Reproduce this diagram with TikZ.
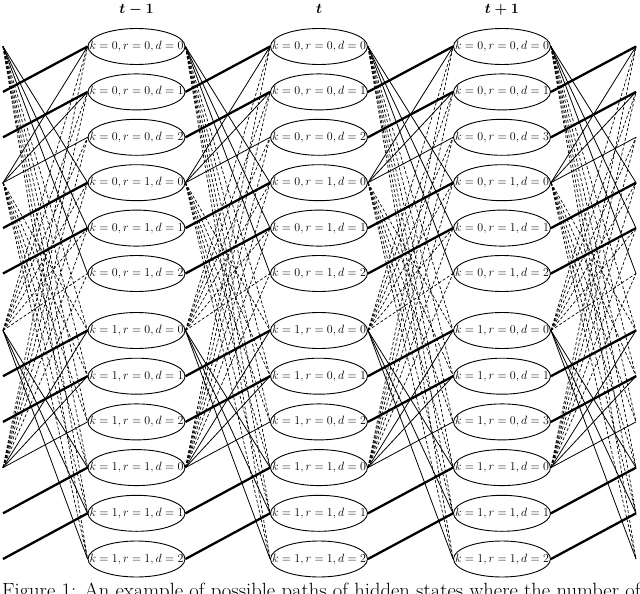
\documentclass[tikz,border=0pt]{standalone}
\usetikzlibrary{shapes.geometric}
\begin{document}
\begin{tikzpicture}[x=1pt,y=-1pt,
  st/.style={draw, ellipse, line width=0.9pt, minimum width=97pt, minimum height=36pt, inner sep=0pt},
  lbl/.style={inner sep=0pt, font=\fontsize{11.5}{13}\selectfont},
  pt/.style={inner sep=0pt, outer sep=0pt, minimum size=0pt},
  thickln/.style={line width=2.3pt},
  solidln/.style={line width=0.8pt},
  dashln/.style={line width=0.7pt, dash pattern=on 3pt off 2pt},
  ttl/.style={anchor=base, inner sep=0pt, font=\fontsize{15}{18}\selectfont\boldmath},
  captxt/.style={anchor=base west, inner sep=0pt, font=\fontsize{20.6}{24}\selectfont}]
\useasboundingbox (0,0) rectangle (640,594);
\clip (0,0) rectangle (640,594);
% titles
\node[ttl] (t1) at (136.5,14) {$t-1$};
\node[ttl] (t2) at (319,14) {$t$};
\node[ttl] (t3) at (502,14) {$t+1$};
% states
\foreach \i/\y in {0/46.5,1/91.9,2/137.3,3/182.7,4/228.1,5/273.5,6/330.5,7/376.2,8/421.9,9/467.6,10/513.3,11/559}{
  \node[pt] (L\i) at (3,\y) {};
  \node[pt] (R\i) at (636,\y) {};
  \pgfmathtruncatemacro{\kk}{int(\i/6)}
  \pgfmathtruncatemacro{\rr}{int(mod(\i,6)/3)}
  \pgfmathtruncatemacro{\dd}{mod(\i,3)}
  \pgfmathtruncatemacro{\ddd}{(\dd==2 && \rr==0) ? 3 : \dd}
  \foreach \c/\x in {1/136.5,2/319,3/502}{
    \node[st] (e\c-\i) at (\x,\y) {};
    \ifnum\c=3
      \node[lbl] (n\c-\i) at (\x,\y) {$k=\kk,r=\rr,d=\ddd$};
    \else
      \node[lbl] (n\c-\i) at (\x,\y) {$k=\kk,r=\rr,d=\dd$};
    \fi
  }
}
% transitions
\foreach \a/\b in {L/e1-,e1-/e2-,e2-/e3-,e3-/R}{
  \foreach \s/\t in {1/0,2/1,4/3,5/4,7/6,8/7,10/9,11/10}
    \draw[thickln] (\a\s.east) -- (\b\t.west);
  \foreach \s/\t in {0/3,0/4,0/5,3/0,3/1,3/2,6/9,6/10,6/11,9/6,9/7,9/8}
    \draw[solidln] (\a\s.east) -- (\b\t.west);
  \foreach \s in {0,3}{\foreach \t in {6,...,11}
    \draw[dashln] (\a\s.east) -- (\b\t.west);}
  \foreach \s in {6,9}{\foreach \t in {0,...,5}
    \draw[dashln] (\a\s.east) -- (\b\t.west);}
}
% caption
\node[captxt] (capt) at (2,597) {Figure 1: An example of possible paths of hidden states where the number of};
\end{tikzpicture}
\end{document}
